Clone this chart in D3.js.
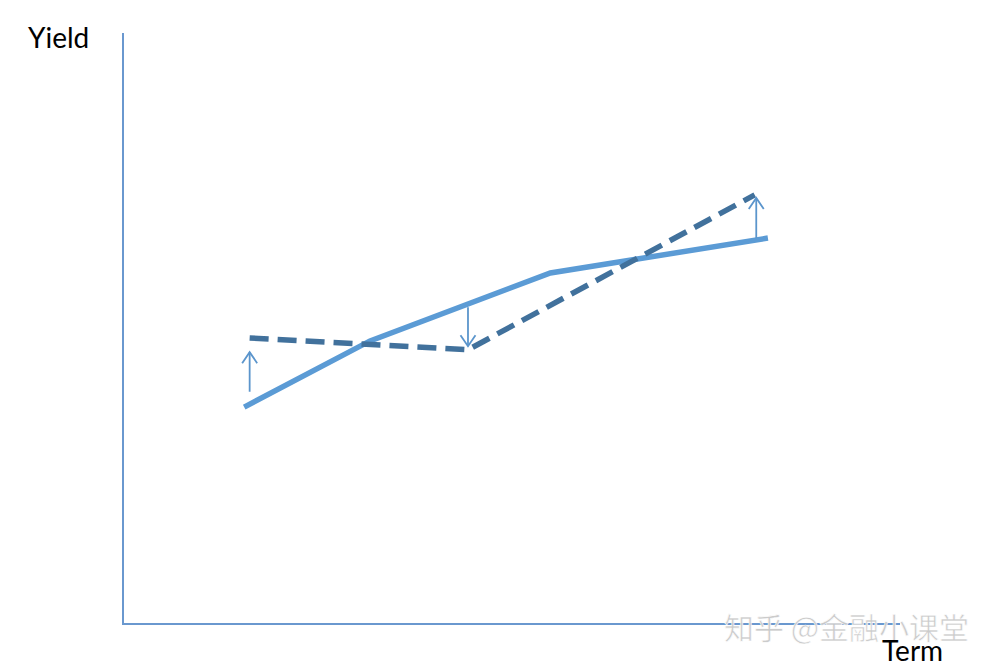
<!DOCTYPE html>
<html lang="en">
<head>
    <meta charset="UTF-8">
    <title>Yield curve shift</title>
    <script src="https://d3js.org/d3.v7.min.js"></script>
    <style>
        body {
            margin: 0;
            background: #fff;
        }
        svg {
            display: block;
        }
    </style>
</head>
<body>
    <svg id="chart" width="994" height="670"></svg>
    <script>
        // term / yield values (arbitrary 0-100 units)
        const solidTerms = [15.6, 31.8, 55.0, 83.0];
        const solidYields = [36.7, 47.9, 59.4, 65.3];

        const dashedTerms = [16.3, 44.4, 81.3];
        const dashedYields = [48.4, 46.4, 72.6];

        // arrows: term, start yield, tip yield
        const arrowTerms = [16.3, 44.4, 81.5];
        const arrowFrom = [39.3, 53.6, 65.3];
        const arrowTo = [46.0, 47.0, 72.1];

        const width = 994, height = 670;
        const origin = { x: 123, y: 624 };

        const x = d3.scaleLinear().domain([0, 100]).range([origin.x, 900]);
        const y = d3.scaleLinear().domain([0, 100]).range([origin.y, 33]);

        const svg = d3.select("#chart");

        const defs = svg.append("defs");
        defs.append("marker")
            .attr("id", "head")
            .attr("markerUnits", "userSpaceOnUse")
            .attr("viewBox", "-12 -10 14 20")
            .attr("markerWidth", 14)
            .attr("markerHeight", 20)
            .attr("refX", 0)
            .attr("refY", 0)
            .attr("orient", "auto")
            .append("path")
            .attr("d", "M-11,-7.5 L0,0 L-11,7.5")
            .attr("fill", "none")
            .attr("stroke", "#5b95cc")
            .attr("stroke-width", 1.8);

        // axes (plain lines, no ticks)
        svg.append("line")
            .attr("x1", x(0)).attr("y1", y(0))
            .attr("x2", x(0)).attr("y2", y(100))
            .attr("stroke", "#6a98cf").attr("stroke-width", 2);
        svg.append("line")
            .attr("x1", x(0) - 1).attr("y1", y(0))
            .attr("x2", x(100)).attr("y2", y(0))
            .attr("stroke", "#6a98cf").attr("stroke-width", 2);

        const line = d3.line()
            .x(d => x(d[0]))
            .y(d => y(d[1]));

        const solid = d3.zip(solidTerms, solidYields);
        const dashed = d3.zip(dashedTerms, dashedYields);

        svg.append("path")
            .datum(solid)
            .attr("d", line)
            .attr("fill", "none")
            .attr("stroke", "#5b9bd5")
            .attr("stroke-width", 5.5);

        svg.append("path")
            .datum(dashed)
            .attr("d", line)
            .attr("fill", "none")
            .attr("stroke", "#41719c")
            .attr("stroke-width", 5.5)
            .attr("stroke-dasharray", "19,9");

        svg.selectAll(".arrow")
            .data(d3.range(arrowTerms.length))
            .enter()
            .append("line")
            .attr("class", "arrow")
            .attr("x1", i => x(arrowTerms[i]))
            .attr("y1", i => y(arrowFrom[i]))
            .attr("x2", i => x(arrowTerms[i]))
            .attr("y2", i => y(arrowTo[i]))
            .attr("stroke", "#5b95cc")
            .attr("stroke-width", 1.8)
            .attr("marker-end", "url(#head)");

        // watermark
        svg.append("text")
            .attr("x", 724)
            .attr("y", 639)
            .attr("font-family", "'Noto Sans CJK SC', sans-serif")
            .attr("font-size", 30)
            .attr("fill", "#c9c9c9")
            .attr("stroke", "#fff")
            .attr("stroke-width", 0.6)
            .attr("opacity", 0.95)
            .text("知乎 @金融小课堂");

        svg.append("text")
            .attr("x", 28)
            .attr("y", 48)
            .attr("font-family", "Lato, 'Open Sans', sans-serif")
            .attr("font-size", 28)
            .attr("fill", "#000")
            .text("Yield");

        svg.append("text")
            .attr("x", 882)
            .attr("y", 661)
            .attr("font-family", "Lato, 'Open Sans', sans-serif")
            .attr("font-size", 28)
            .attr("fill", "#000")
            .text("Term");
    </script>
</body>
</html>
